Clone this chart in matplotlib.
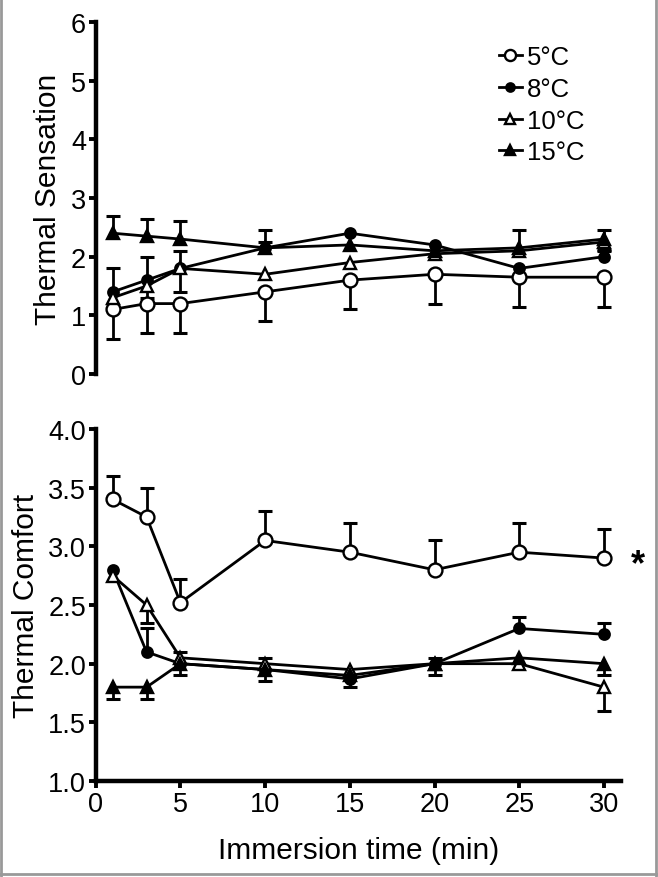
import numpy as np
import matplotlib.pyplot as plt
from matplotlib.lines import Line2D

plt.rcParams['font.family'] = ['Liberation Sans', 'DejaVu Sans']

# Immersion time (min)
tempi = [1, 3, 5, 10, 15, 20, 25, 30]
etichette = ['5°C', '8°C', '10°C', '15°C']

# Thermal Sensation (mean, one-sided SEM)
sens_5 = [1.1, 1.2, 1.2, 1.4, 1.6, 1.7, 1.65, 1.65]
sens_8 = [1.4, 1.6, 1.8, 2.15, 2.4, 2.2, 1.8, 2.0]
sens_10 = [1.3, 1.5, 1.8, 1.7, 1.9, 2.05, 2.1, 2.25]
sens_15 = [2.4, 2.35, 2.3, 2.15, 2.2, 2.1, 2.15, 2.3]
sens_err_5 = [0.5, 0.5, 0.5, 0.5, 0.5, 0.5, 0.5, 0.5]      # below
sens_err_8 = [0.4, 0.4, 0.3, 0.1, 0.0, 0.0, 0.0, 0.1]      # above
sens_err_10 = [0.2, 0.2, 0.4, 0.0, 0.0, 0.0, 0.0, 0.13]    # below
sens_err_15 = [0.3, 0.3, 0.3, 0.3, 0.0, 0.0, 0.3, 0.15]    # above

# Thermal Comfort
comf_5 = [3.4, 3.25, 2.52, 3.05, 2.95, 2.8, 2.95, 2.9]
comf_8 = [2.8, 2.1, 2.0, 1.95, 1.87, 2.0, 2.3, 2.25]
comf_10 = [2.75, 2.5, 2.05, 2.0, 1.95, 2.0, 2.0, 1.8]
comf_15 = [1.8, 1.8, 2.0, 1.95, 1.9, 2.0, 2.05, 2.0]
comf_err_5 = [0.2, 0.25, 0.2, 0.25, 0.25, 0.25, 0.25, 0.25]   # above
comf_err_8 = [0.0, 0.2, 0.1, 0.1, 0.0, 0.05, 0.1, 0.1]        # above
comf_err_10 = [0.0, 0.15, 0.0, 0.0, 0.0, 0.0, 0.0, 0.2]       # below
comf_err_15 = [0.1, 0.1, 0.1, 0.1, 0.1, 0.1, 0.0, 0.1]        # below

# stili dei marker: (marker, riempimento, dimensione)
stili = [('o', 'white', 10), ('o', 'black', 7.5), ('^', 'white', 8.5), ('^', 'black', 8.5)]
lw = 2.0


def disegna_errore(ax, x, y, err, verso):
    x = np.array(x)
    y = np.array(y)
    err = np.array(err)
    m = err > 0
    fine = y + err if verso > 0 else y - err
    ax.vlines(x[m], y[m], fine[m], color='black', lw=lw, zorder=2)
    ax.plot(x[m], fine[m], ls='none', marker='_', ms=10, mew=2.2, color='black', zorder=2)


def disegna_serie(ax, x, y, stile, label=None):
    marker, fc, ms = stile
    ax.plot(x, y, color='black', lw=lw, marker=marker, ms=ms, mfc=fc,
            mec='black', mew=1.7, zorder=3, label=label)


fig = plt.figure(figsize=(6.58, 8.78), dpi=100)
ax1 = fig.add_axes([0.1455, 0.5729, 0.798, 0.4009])
ax2 = fig.add_axes([0.1455, 0.1093, 0.798, 0.4010])

# --- pannello superiore ---
disegna_errore(ax1, tempi, sens_5, sens_err_5, -1)
disegna_errore(ax1, tempi, sens_8, sens_err_8, 1)
disegna_errore(ax1, tempi, sens_10, sens_err_10, -1)
disegna_errore(ax1, tempi, sens_15, sens_err_15, 1)
for serie, stile, lab in zip([sens_5, sens_8, sens_10, sens_15], stili, etichette):
    disegna_serie(ax1, tempi, serie, stile, lab)

# --- pannello inferiore ---
disegna_errore(ax2, tempi, comf_5, comf_err_5, 1)
disegna_errore(ax2, tempi, comf_8, comf_err_8, 1)
disegna_errore(ax2, tempi, comf_10, comf_err_10, -1)
disegna_errore(ax2, tempi, comf_15, comf_err_15, -1)
for serie, stile in zip([comf_5, comf_8, comf_10, comf_15], stili):
    disegna_serie(ax2, tempi, serie, stile)

for ax in (ax1, ax2):
    ax.set_xlim(0, 31)
    ax.spines['top'].set_visible(False)
    ax.spines['right'].set_visible(False)
    for s in ('left', 'bottom'):
        ax.spines[s].set_linewidth(3.2)
    ax.tick_params(direction='out', length=5, width=2.8, labelsize=19.5, pad=2)

ax1.set_ylim(0, 6)
ax1.set_yticks(range(0, 7))
ax1.spines['bottom'].set_visible(False)
ax1.set_xticks([])
ax1.set_ylabel('Thermal Sensation', fontsize=21.5, labelpad=6)

ax2.set_ylim(1, 4)
ax2.set_yticks(np.arange(1.0, 4.01, 0.5))
ax2.set_yticklabels(['%.1f' % v for v in np.arange(1.0, 4.01, 0.5)])
ax2.set_xticks(range(0, 31, 5))
ax2.spines['bottom'].set_bounds(0, 31)
ax2.set_ylabel('Thermal Comfort', fontsize=21.5, labelpad=6)
ax2.set_xlabel('Immersion time (min)', fontsize=21.5, labelpad=14)
ax2.text(31.6, comf_5[-1] - 0.06, '*', fontsize=26, fontweight='bold', va='center', ha='left')

# legenda
leg = ax1.legend(loc='upper right', bbox_to_anchor=(0.965, 0.985), frameon=False,
                 fontsize=18.5, handlelength=0.9, handletextpad=0.2, labelspacing=0.3,
                 borderpad=0.2)
for h in leg.legend_handles:
    h.set_markersize(h.get_markersize() * 0.8)

# bordo grigio della figura
for xs, ys in [([0.002, 0.002], [0, 1]), ([0.997, 0.997], [0, 1]), ([0, 1], [0.003, 0.003])]:
    fig.add_artist(Line2D(xs, ys, transform=fig.transFigure, color='#999999', lw=2))

fig.savefig('out.png', dpi=100)
